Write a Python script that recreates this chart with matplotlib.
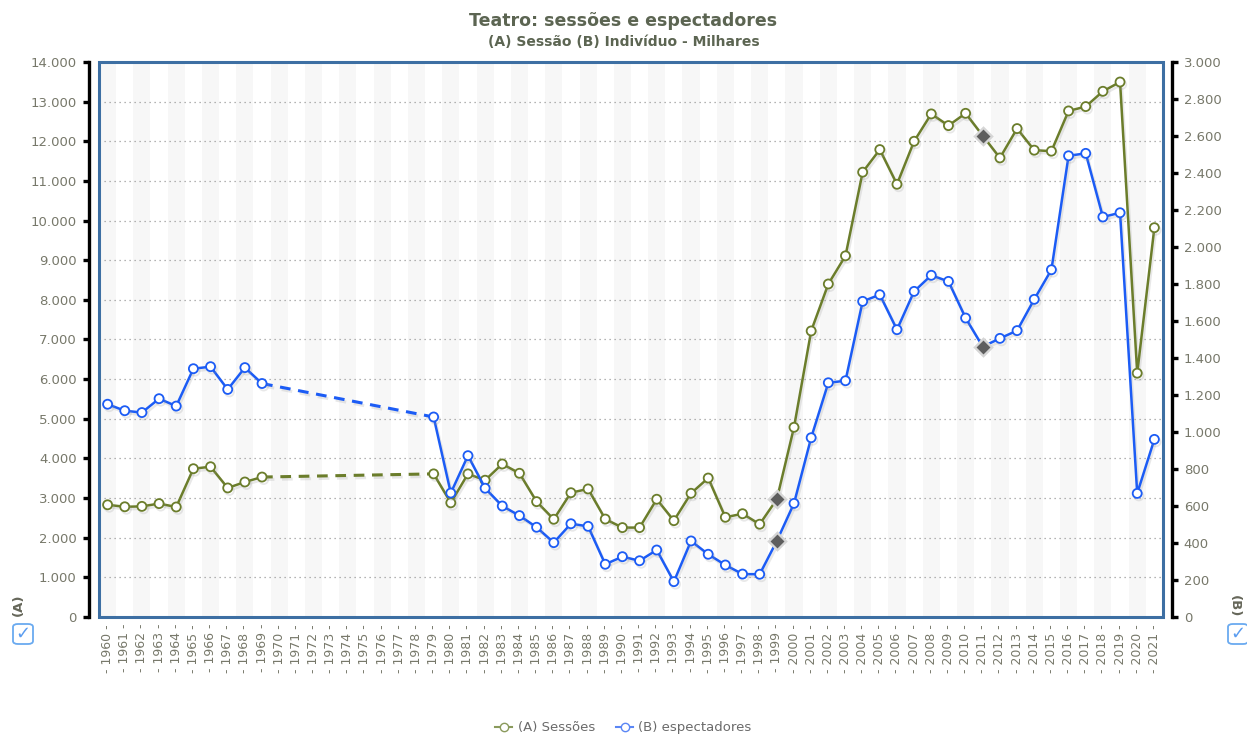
import numpy as np
import matplotlib
matplotlib.use('Agg')
import matplotlib.pyplot as plt
import matplotlib.patheffects as pe
from matplotlib.lines import Line2D
from matplotlib.patches import Rectangle, FancyBboxPatch
from matplotlib.ticker import FuncFormatter, MultipleLocator

# dados
anos = list(range(1960, 2022))
nan = np.nan
sessoes = [2830, 2780, 2790, 2860, 2775, 3740, 3790, 3255, 3405, 3530,
           nan, nan, nan, nan, nan, nan, nan, nan, nan, 3610,
           2880, 3610, 3450, 3860, 3625, 2910, 2465, 3135, 3230, 2470,
           2255, 2255, 2970, 2430, 3120, 3505, 2515, 2605, 2340, 2970,
           4785, 7215, 8400, 9110, 11220, 11790, 10915, 12000, 12690, 12395,
           12705, 12140, 11580, 12320, 11775, 11750, 12765, 12875, 13260, 13495,
           6150, 9820]
espectadores = [1150, 1115, 1105, 1180, 1140, 1342, 1353, 1230, 1348, 1262,
                nan, nan, nan, nan, nan, nan, nan, nan, nan, 1081,
                670, 872, 696, 600, 548, 485, 402, 504, 490, 285,
                326, 304, 362, 191, 411, 339, 281, 232, 231, 411,
                614, 969, 1266, 1277, 1706, 1742, 1553, 1760, 1847, 1814,
                1616, 1461, 1506, 1548, 1717, 1877, 2493, 2506, 2162, 2185,
                668, 960]
# anos com quebra de serie (losango cinza)
quebras = [1999, 2011]

verde = '#6b7d2b'
azul = '#1c5cf5'
cinza_txt = '#77786a'

x = np.arange(len(anos))
sA = np.array(sessoes, dtype=float)
sB = np.array(espectadores, dtype=float)
qi = [anos.index(a) for a in quebras]

fig = plt.figure(figsize=(12.47, 7.36), dpi=100)
ax = fig.add_axes([0.0794, 0.1617, 0.8532, 0.7541])
ax2 = ax.twinx()

ax.set_xlim(-0.5, len(anos) - 0.5)
ax.set_ylim(0, 14000)
ax2.set_ylim(0, 3000)

# faixas alternadas
for i in range(0, len(anos), 2):
    ax.axvspan(i - 0.5, i + 0.5, color='#f7f7f7', lw=0, zorder=0)

ax.yaxis.set_major_locator(MultipleLocator(1000))
ax2.yaxis.set_major_locator(MultipleLocator(200))
ax.grid(axis='y', color='#9a9a9a', linestyle=(0, (1, 3)), lw=0.9)
ax.set_axisbelow(True)

fmt = FuncFormatter(lambda v, p: f'{int(v):,}'.replace(',', '.'))
ax.yaxis.set_major_formatter(fmt)
ax2.yaxis.set_major_formatter(fmt)

sombra = [pe.SimpleLineShadow(offset=(1.2, -1.8), shadow_color='#999999', alpha=0.22), pe.Normal()]


def serie(axis, vals, cor):
    marc = [i for i in range(len(vals)) if not np.isnan(vals[i]) and i not in qi]
    axis.plot(x, vals, color=cor, lw=1.8, zorder=3, path_effects=sombra,
              marker='o', ms=6.5, mfc='white', mec=cor, mew=1.3, markevery=marc)
    # ligacao tracejada sobre os anos em falta
    ok = np.where(~np.isnan(vals))[0]
    for a, b in zip(ok[:-1], ok[1:]):
        if b - a > 1:
            axis.plot([x[a], x[b]], [vals[a], vals[b]], color=cor, lw=2.2,
                      ls=(0, (3.5, 2.5)), zorder=2, path_effects=sombra)
    axis.scatter(x[qi], vals[qi], marker='D', s=110, color='#d6d6d6', zorder=4, lw=0)
    axis.scatter(x[qi], vals[qi], marker='D', s=50, color='#5e5e5e', zorder=5, lw=0)


serie(ax, sA, verde)
serie(ax2, sB, azul)

ax.set_xticks(x)
ax.set_xticklabels([f'- {a} -' for a in anos], rotation=90, fontsize=9, color=cinza_txt)
ax.tick_params(axis='x', length=0, pad=5)

for s in ['top', 'bottom', 'right']:
    ax.spines[s].set_visible(False)
for s in ['top', 'bottom', 'left']:
    ax2.spines[s].set_visible(False)
ax.spines['left'].set_position(('outward', 7.5))
ax.spines['left'].set_linewidth(2.4)
ax.spines['left'].set_color('black')
ax2.spines['right'].set_position(('outward', 6.5))
ax2.spines['right'].set_linewidth(2.4)
ax2.spines['right'].set_color('black')
ax.tick_params(axis='y', length=4.5, width=2.4, color='black', labelsize=9.5,
               labelcolor=cinza_txt, pad=4)
ax2.tick_params(axis='y', length=4.5, width=2.4, color='black', labelsize=9.5,
                labelcolor=cinza_txt, pad=4)

# moldura azul da area do grafico
ax.add_patch(Rectangle((0, 0), 1, 1, transform=ax.transAxes, fill=False,
                       ec='#3d6fa3', lw=2.2, zorder=6, clip_on=False))

fig.text(0.5, 0.972, 'Teatro: sessões e espectadores', ha='center', va='center',
         fontsize=12.5, fontweight='bold', color='#5c6552')
fig.text(0.5, 0.943, '(A) Sessão (B) Indivíduo - Milhares', ha='center', va='center',
         fontsize=10, fontweight='bold', color='#5c6552')

# rotulos dos eixos e caixas de selecao
fig.text(18 / 1247, 1 - 605 / 736, '(A)', rotation=90, ha='center', va='center',
         fontsize=9.5, fontweight='bold', color='#66675a')
fig.text(1234 / 1247, 1 - 606 / 736, '(B)', rotation=-90, ha='center', va='center',
         fontsize=9.5, fontweight='bold', color='#66675a')
for cx in [23, 1238]:
    fig.patches.append(FancyBboxPatch(((cx - 10) / 1247, 1 - 644 / 736), 20 / 1247, 20 / 736,
                                      boxstyle='round,pad=0,rounding_size=0.004',
                                      transform=fig.transFigure, fill=False,
                                      ec='#6aaaf0', lw=1.3))
    fig.text(cx / 1247, 1 - 634 / 736, '✓', ha='center', va='center',
             fontsize=13, color='#5a9cf0')

# legenda
hs = [Line2D([], [], color='#8a9a5c', marker='o', mfc='white', mec='#8a9a5c', ms=6, lw=1.5),
      Line2D([], [], color='#5a86f5', marker='o', mfc='white', mec='#5a86f5', ms=6, lw=1.5)]
fig.legend(hs, ['(A) Sessões', '(B) espectadores'], loc='center', ncol=2,
           bbox_to_anchor=(0.5, 1 - 728 / 736), frameon=False, fontsize=9.5,
           labelcolor='#6a6a6a', handlelength=1.3, handletextpad=0.4, columnspacing=1.6)

fig.savefig('out.png', dpi=100)
